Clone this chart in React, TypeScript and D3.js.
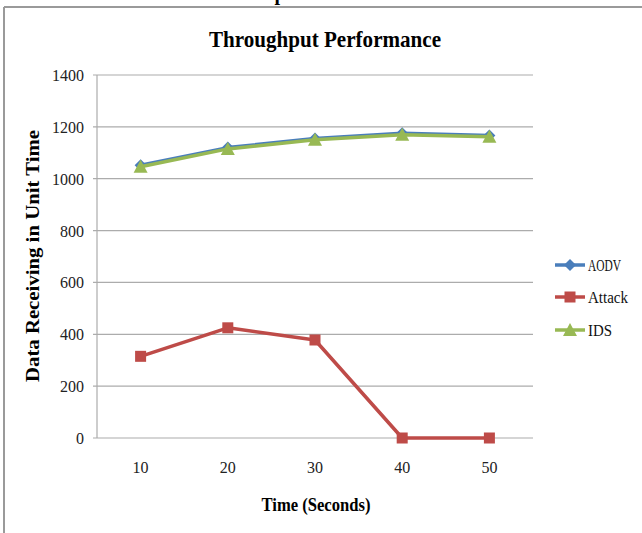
import React from "react";
import * as d3 from "d3";

const categories = ["10", "20", "30", "40", "50"];
const aodv = [1052, 1120, 1155, 1175, 1167];
const attack = [315, 425, 378, 0, 0];
const ids = [1046, 1115, 1150, 1170, 1162];
const yTicks = [0, 200, 400, 600, 800, 1000, 1200, 1400];
const seriesNames = ["AODV", "Attack", "IDS"];
const seriesColors = ["#4a7ebb", "#be4b48", "#98b954"];

const W = 642;
const H = 533;
const plot = { left: 97, right: 533, top: 75, bottom: 438 };
const FONT = "'Liberation Serif', 'Times New Roman', serif";

function marker(type: string, cx: number, cy: number, color: string, key: string) {
  if (type === "square") {
    const s = 11;
    return <rect key={key} x={cx - s / 2} y={cy - s / 2} width={s} height={s} fill={color} />;
  }
  if (type === "triangle") {
    const s = 12;
    return (
      <path
        key={key}
        d={`M${cx},${cy - s / 2 - 1} L${cx + s / 2 + 1},${cy + s / 2} L${cx - s / 2 - 1},${cy + s / 2} Z`}
        fill={color}
      />
    );
  }
  const s = 6;
  return (
    <path key={key} d={`M${cx},${cy - s} L${cx + s},${cy} L${cx},${cy + s} L${cx - s},${cy} Z`} fill={color} />
  );
}

export default function App() {
  const x = d3.scaleBand<string>().domain(categories).range([plot.left, plot.right]);
  const y = d3.scaleLinear().domain([0, 1400]).range([plot.bottom, plot.top]);
  const cx = (c: string) => (x(c) as number) + x.bandwidth() / 2;
  const line = d3
    .line<number>()
    .x((_, i) => cx(categories[i]))
    .y((d) => y(d));

  const series = [
    { name: seriesNames[0], data: aodv, color: seriesColors[0], m: "diamond" },
    { name: seriesNames[1], data: attack, color: seriesColors[1], m: "square" },
    { name: seriesNames[2], data: ids, color: seriesColors[2], m: "triangle" },
  ];

  const legendY = [265, 297, 330];

  return (
    <svg
      width={W}
      height={H}
      style={{ position: "absolute", left: 0, top: 0, background: "#fff" }}
      fontFamily={FONT}
    >
      <rect x={0} y={0} width={W} height={H} fill="#fff" />
      {/* partial caption above */}
      <text x={280} y={0} fontSize={20} fontWeight="bold" textAnchor="middle" fill="#000">
        p
      </text>
      {/* border */}
      <line x1={4} x2={W} y1={7} y2={7} stroke="#9a9a9a" strokeWidth={2} />
      <line x1={4} x2={4} y1={7} y2={H} stroke="#9a9a9a" strokeWidth={2} />

      {/* gridlines */}
      {yTicks.map((t) => (
        <line key={"g" + t} x1={plot.left - 4} x2={plot.right} y1={y(t)} y2={y(t)} stroke="#acacac" strokeWidth={1.2} />
      ))}
      <line x1={plot.left} x2={plot.left} y1={plot.top} y2={plot.bottom} stroke="#acacac" strokeWidth={1.2} />

      {/* y tick labels */}
      {yTicks.map((t) => (
        <text
          key={"yl" + t}
          x={84}
          y={y(t) + 6}
          fontSize={17}
          textAnchor="end"
          fill="#222"
          textLength={String(t).length * 8}
          lengthAdjust="spacingAndGlyphs"
        >
          {t}
        </text>
      ))}

      {/* x tick labels */}
      {categories.map((c) => (
        <text
          key={"xl" + c}
          x={cx(c)}
          y={473}
          fontSize={17}
          textAnchor="middle"
          fill="#222"
          textLength={16}
          lengthAdjust="spacingAndGlyphs"
        >
          {c}
        </text>
      ))}

      {/* series */}
      {series.map((s) => (
        <g key={s.name}>
          <path d={line(s.data) || ""} fill="none" stroke={s.color} strokeWidth={3.5} strokeLinejoin="round" />
          {s.data.map((v, i) => marker(s.m, cx(categories[i]), y(v), s.color, s.name + i))}
        </g>
      ))}

      {/* legend */}
      {series.map((s, i) => (
        <g key={"lg" + s.name}>
          <line x1={555} x2={585} y1={legendY[i]} y2={legendY[i]} stroke={s.color} strokeWidth={3.5} />
          {marker(s.m, 570, legendY[i], s.color, "lm" + i)}
          <text
            x={588}
            y={legendY[i] + 6}
            fontSize={17}
            fill="#111"
            textLength={s.name === "AODV" ? 33 : s.name === "Attack" ? 40 : 24}
            lengthAdjust="spacingAndGlyphs"
          >
            {s.name}
          </text>
        </g>
      ))}

      {/* title */}
      <text
        x={325}
        y={47}
        fontSize={23}
        fontWeight="bold"
        textAnchor="middle"
        fill="#000"
        textLength={232}
        lengthAdjust="spacingAndGlyphs"
      >
        Throughput Performance
      </text>

      {/* x axis title */}
      <text
        x={316}
        y={511}
        fontSize={18}
        fontWeight="bold"
        textAnchor="middle"
        fill="#000"
        textLength={109}
        lengthAdjust="spacingAndGlyphs"
      >
        Time (Seconds)
      </text>

      {/* y axis title */}
      <text
        transform={`translate(39,256) rotate(-90)`}
        fontSize={18}
        fontWeight="bold"
        textAnchor="middle"
        fill="#000"
        textLength={252}
        lengthAdjust="spacingAndGlyphs"
      >
        Data Receiving in Unit Time
      </text>
    </svg>
  );
}
